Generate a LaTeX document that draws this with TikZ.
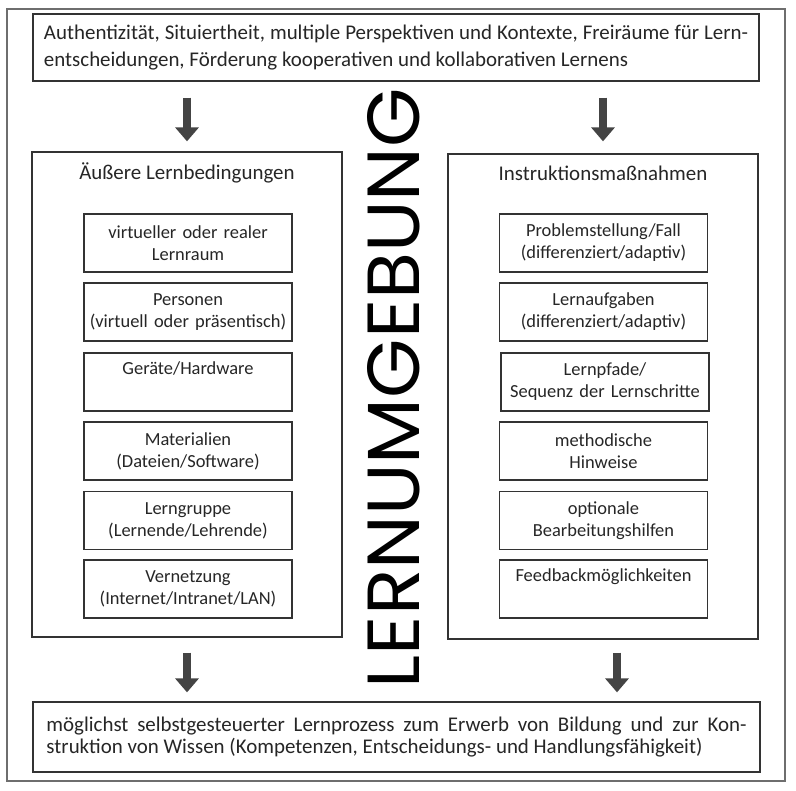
\documentclass[tikz,border=0pt]{standalone}
\usepackage{fontspec}
\usepackage{graphicx}
\setmainfont{Carlito}
\newfontfamily\geofont{Poppins}
\usetikzlibrary{arrows.meta}
\definecolor{txt}{HTML}{262626}
\definecolor{boxc}{HTML}{333333}
\definecolor{framec}{HTML}{6E6E6E}
\definecolor{arrowc}{HTML}{444444}
\tikzset{
  framebox/.style={draw=framec, line width=2bp},
  bigbox/.style={draw=boxc, line width=1.3bp, minimum width=310bp, minimum height=485bp, inner sep=0pt},
  smallbox/.style={draw=boxc, line width=1.2bp, minimum width=208bp, minimum height=58bp,
    text width=206bp, align=center, inner sep=0pt, text=txt,
    font=\fontsize{18.5}{22}\selectfont},
  wide/.style={draw=boxc, line width=1.3bp, text=txt, inner sep=0pt, align=justify},
  title/.style={text=txt, font=\fontsize{21}{24}\selectfont, inner sep=0pt},
  fatarrow/.style={draw=arrowc, line width=8bp, -{Triangle[width=23bp,length=14bp]}}
}
\begin{document}
\begin{tikzpicture}[x=1bp,y=-1bp]
\useasboundingbox (0,0) rectangle (796,791);
\fill[white] (0,0) rectangle (796,791);
\draw[framebox] (7,9) rectangle (785,781);

\node[wide, minimum width=726bp, minimum height=67bp, text width=704bp,
  font=\fontsize{21}{26.5}\selectfont] (top) at (396,47.5)
  {Authentizität, Situiertheit, multiple Perspektiven und Kontexte, Freiräume für Lern-\linebreak entscheidungen, Förderung kooperativen und kollaborativen Lernens};

\node[bigbox] (lb) at (187,394.5) {};
\node[bigbox] (rb) at (603,396.5) {};
\node[title] (lbt) at (187,173) {Äußere Lernbedingungen};
\node[title] (rbt) at (603,173) {Instruktionsmaßnahmen};

\node[smallbox] (l1) at (188,243) {virtueller oder realer\\Lernraum};
\node[smallbox] (l2) at (188,312) {Personen\\(virtuell oder präsentisch)};
\node[smallbox] (l3) at (188,382) {Geräte/Hardware\\\strut};
\node[smallbox] (l4) at (188,451) {Materialien\\(Dateien/Software)};
\node[smallbox] (l5) at (188,520.5) {Lerngruppe\\(Lernende/Lehrende)};
\node[smallbox] (l6) at (188,589) {Vernetzung\\(Internet/Intranet/LAN)};

\node[smallbox] (r1) at (603.5,243) {Problemstellung/Fall\\(differenziert/adaptiv)};
\node[smallbox] (r2) at (603.5,312) {Lernaufgaben\\(differenziert/adaptiv)};
\node[smallbox] (r3) at (605,382) {Lernpfade/\\Sequenz der Lernschritte};
\node[smallbox] (r4) at (603.5,451) {methodische\\Hinweise};
\node[smallbox] (r5) at (603.5,520.5) {optionale\\Bearbeitungshilfen};
\node[smallbox] (r6) at (603.5,589) {Feedbackmöglichkeiten\\\strut};

\node[wide, minimum width=727bp, minimum height=70bp, text width=700bp,
  font=\fontsize{21}{21.5}\selectfont] (bottom) at (396.5,737)
  {möglichst selbstgesteuerter Lernprozess zum Erwerb von Bildung und zur Kon-\linebreak struktion von Wissen (Kompetenzen, Entscheidungs- und Handlungsfähigkeit)};

\node[rotate=90, inner sep=0pt] (lu) at (394,388)
  {\resizebox{600bp}{52bp}{\geofont LERNUMGEBUNG}};

\draw[fatarrow, shorten <=16bp, shorten >=10bp] (lb.north |- top.south) -- (lb.north);
\draw[fatarrow, shorten <=16bp, shorten >=12bp] (rb.north |- top.south) -- (rb.north);
\coordinate (rbs) at ([xshift=14bp]rb.south);
\draw[fatarrow, shorten <=15bp, shorten >=9bp] (lb.south) -- (lb.south |- bottom.north);
\draw[fatarrow, shorten <=13bp, shorten >=9bp] (rbs) -- (rbs |- bottom.north);
\end{tikzpicture}
\end{document}
